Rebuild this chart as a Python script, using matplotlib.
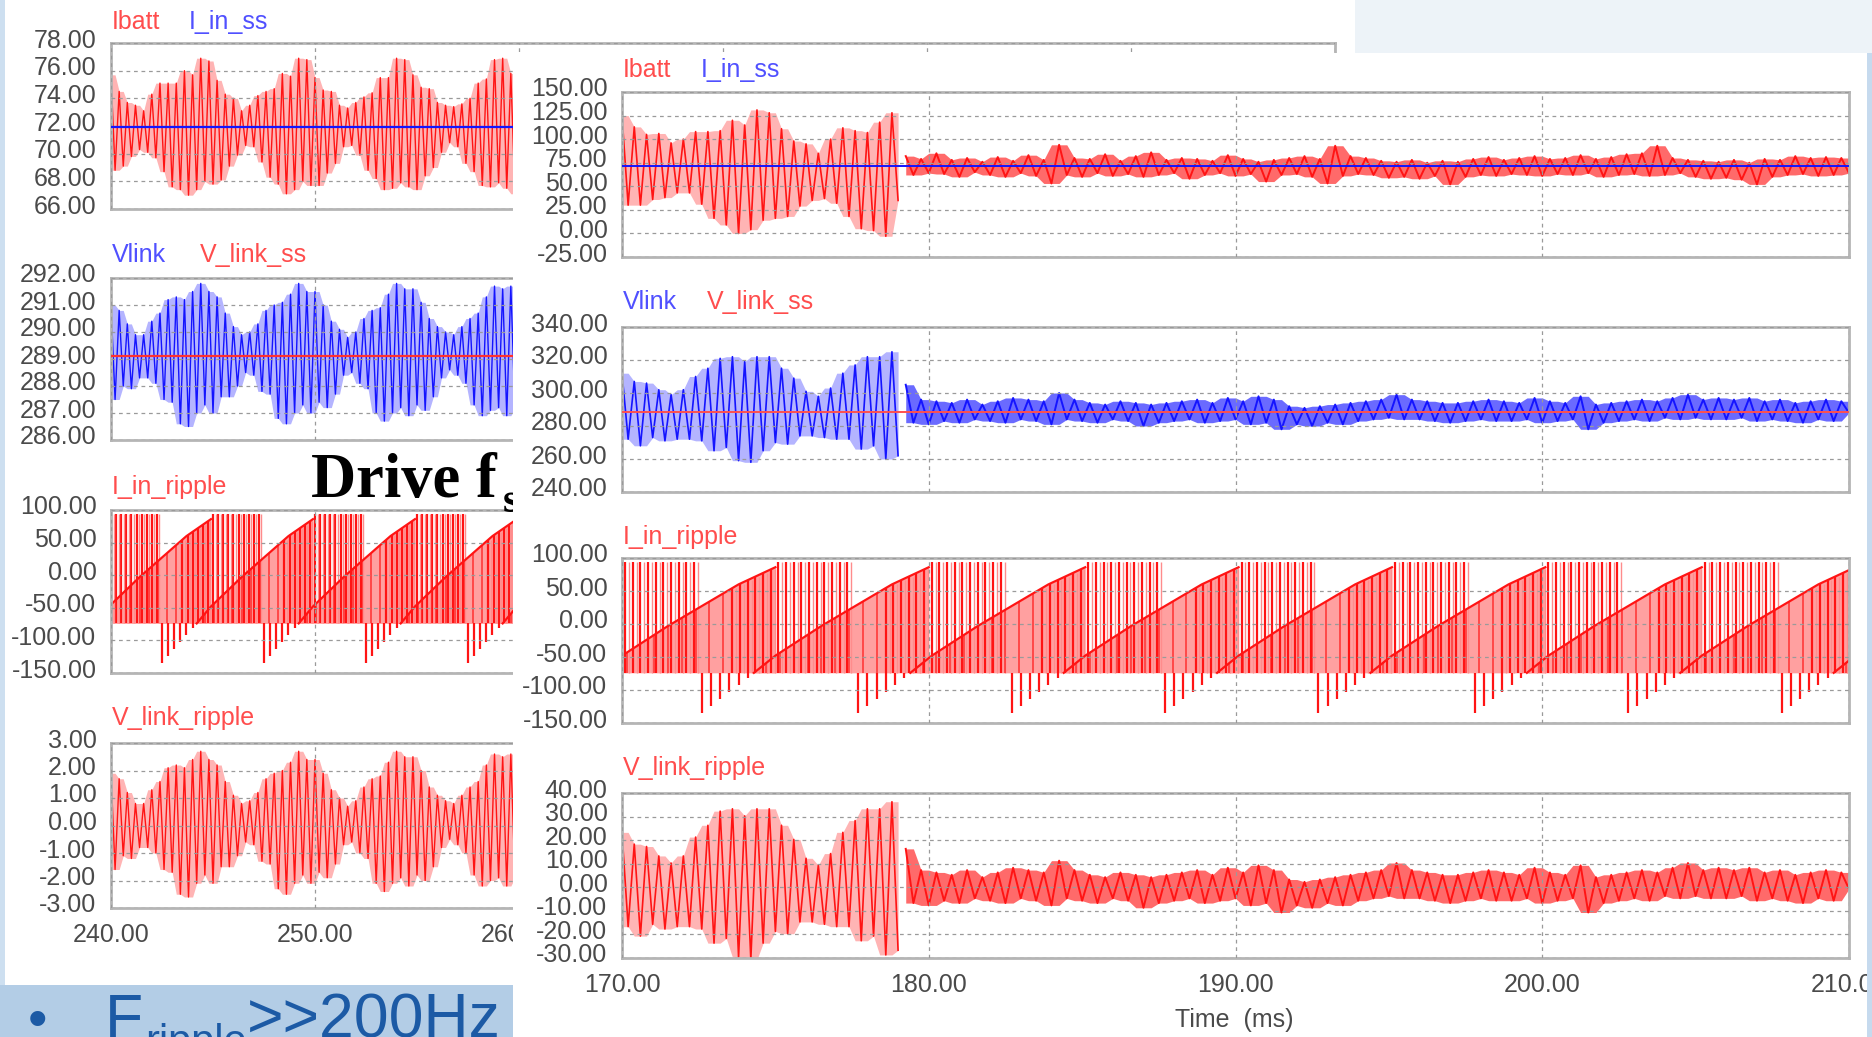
import numpy as np
import matplotlib.pyplot as plt
from matplotlib.patches import Rectangle
from matplotlib.ticker import FormatStrFormatter
from matplotlib.transforms import ScaledTranslation

# ---- values read off the two scope captures ----
# left capture: 240-260 ms visible, one vertex every 0.2 ms
left_t0, left_dt = 240.0, 0.2
ibatt_left = [
    75.7, 68.8, 74.5, 69.1, 73.7, 69.8, 73.5, 70.3, 73.1, 70.1,
    74.3, 69.7, 75.1, 68.7, 75.1, 67.6, 75.1, 67.4, 76.0, 67.0,
    75.7, 67.4, 76.9, 68.0, 76.7, 67.8, 75.3, 68.1, 74.3, 69.1,
    74.0, 69.9, 73.1, 70.6, 73.5, 70.5, 74.2, 69.4, 74.5, 68.3,
    74.7, 67.8, 75.8, 67.1, 75.6, 67.4, 76.9, 68.0, 76.8, 67.7,
    75.5, 67.7, 74.6, 68.6, 74.5, 69.3, 73.5, 70.5, 73.3, 70.6,
    73.7, 69.9, 74.1, 68.8, 74.4, 68.2, 75.5, 67.4, 75.5, 67.5,
    76.9, 67.9, 76.8, 67.6, 75.7, 67.4, 74.8, 68.4, 74.7, 69.0,
    73.7, 70.1, 73.5, 70.8, 73.4, 70.5, 73.6, 69.3, 74.0, 68.7,
    75.1, 67.7, 75.4, 67.6, 76.8, 67.9, 76.9, 67.5, 75.8, 67.1,
    75.1]
vlink_left = [
    291.0, 287.5, 290.8, 288.0, 290.3, 287.9, 289.9, 288.3, 289.9, 288.3,
    290.4, 288.1, 290.7, 287.5, 291.2, 287.4, 291.3, 286.6, 291.2, 286.5,
    291.5, 287.0, 291.8, 287.3, 291.5, 287.0, 291.3, 287.6, 290.7, 287.6,
    290.2, 288.0, 289.9, 288.5, 290.0, 288.4, 290.3, 287.8, 290.8, 287.7,
    291.0, 286.8, 291.1, 286.6, 291.4, 287.0, 291.8, 287.3, 291.5, 287.0,
    291.5, 287.4, 291.0, 287.2, 290.4, 287.7, 290.1, 288.4, 289.8, 288.5,
    290.0, 288.1, 290.5, 287.9, 290.8, 287.0, 290.9, 286.7, 291.4, 287.0,
    291.8, 287.2, 291.6, 286.9, 291.6, 287.3, 291.1, 287.1, 290.5, 287.6,
    290.2, 288.3, 290.0, 288.6, 289.9, 288.4, 290.2, 288.1, 290.5, 287.3,
    290.7, 286.9, 291.3, 287.1, 291.7, 287.2, 291.6, 286.9, 291.7, 287.2,
    291.3]
i_in_ss_left = 71.9
v_link_ss_left = 289.1

# right capture: 170-179 ms oscillation (0.2 ms), then 179.25-210 ms noise (0.25 ms)
osc_t0, osc_dt = 170.0, 0.2
noise_t0, noise_dt = 179.25, 0.25
ibatt_osc = [
    125, 30, 113, 30, 105, 36, 106, 38, 96, 43,
    100, 43, 108, 31, 108, 16, 109, 9, 120, 0,
    115, 4, 131, 14, 128, 16, 111, 18, 98, 29,
    95, 35, 85, 37, 100, 32, 112, 18, 109, 5,
    107, 3, 118, -3, 128, 35]
ibatt_noise = [
    82, 62, 79, 64, 85, 63, 78, 60, 80, 65, 76, 62, 81, 60, 77,
    64, 83, 61, 78, 53, 94, 62, 80, 60, 79, 64, 84, 61, 77, 63, 82,
    60, 86, 62, 78, 64, 80, 58, 79, 62, 77, 64, 83, 61, 79, 63, 76,
    55, 78, 62, 80, 63, 82, 60, 79, 53, 93, 61, 82, 63, 80, 62, 77,
    59, 76, 60, 78, 58, 75, 61, 77, 52, 76, 60, 79, 62, 81, 61, 78,
    63, 80, 62, 82, 61, 79, 63, 80, 62, 83, 64, 79, 60, 81, 62, 84,
    63, 85, 61, 93, 62, 80, 64, 78, 60, 77, 58, 76, 59, 78, 57, 75,
    52, 79, 60, 78, 62, 82, 63, 80, 61, 81, 62, 80, 64]
vlink_osc = [
    312, 272, 307, 268, 306, 273, 302, 271, 299, 272,
    302, 272, 310, 271, 315, 265, 321, 267, 322, 259,
    319, 258, 322, 265, 322, 270, 315, 269, 309, 274,
    301, 274, 298, 273, 303, 272, 312, 272, 317, 266,
    322, 268, 322, 260, 325, 262]
vlink_noise = [
    305, 282, 296, 281, 295, 283, 294, 282, 296, 284, 293, 283, 295, 282, 297,
    284, 296, 283, 295, 281, 300, 284, 296, 283, 294, 282, 293, 284, 295, 283, 294,
    280, 293, 282, 294, 283, 295, 284, 296, 282, 294, 283, 297, 284, 295, 281, 298,
    282, 296, 278, 292, 281, 291, 280, 292, 282, 293, 281, 294, 283, 295, 284, 296,
    285, 299, 284, 296, 284, 295, 283, 294, 282, 294, 283, 295, 284, 296, 283, 295,
    283, 294, 284, 297, 282, 295, 283, 294, 284, 298, 278, 293, 282, 294, 283, 295,
    284, 296, 283, 295, 285, 297, 284, 299, 285, 296, 284, 297, 284, 296, 285, 297,
    283, 295, 284, 296, 283, 294, 282, 295, 284, 296, 283, 295, 288]
i_in_ss_right = 71.0
v_link_ss_right = 288.7

# I_in_ripple: repeating ramps (start times, ramp shape), floor and ceiling
ramp_starts_left = [232.5, 237.5, 242.5, 247.5, 252.5, 257.5]
ramp_starts_right = [162.6, 167.6, 172.6, 177.7, 182.7, 187.7, 192.7, 197.8, 202.8, 207.8]
ramp_offset = [0.0, 1.7, 2.4, 3.9, 6.2, 7.4]
ramp_value = [-135, -74, -48, -3, 60, 86]
plateau_end = 10.0
ripple_floor = -74
ripple_ceiling = 94

W, H = 1872, 1037
RED = '#ff1414'
BLUE = '#1414ff'
PALE = '#ffa0a0'
LBL_RED = '#ff4d4d'
LBL_BLUE = '#5050ff'
FONT = 'Liberation Sans'

fig = plt.figure(figsize=(W / 100, H / 100), dpi=100, facecolor='#cddff0')


def box(x0, y0, x1, y1):
    return [x0 / W, 1 - y1 / H, (x1 - x0) / W, (y1 - y0) / H]


def add_rect(x0, y0, x1, y1, color, z):
    b = box(x0, y0, x1, y1)
    fig.add_artist(Rectangle((b[0], b[1]), b[2], b[3], transform=fig.transFigure,
                             facecolor=color, edgecolor='none', zorder=z))


def label(x, y, s, color, z, size=18):
    fig.text(x / W, 1 - y / H, s, color=color, fontsize=size, family=FONT,
             ha='left', va='center', zorder=z)


def style(ax, xticks, ylim, yticks, show_x):
    ax.set_xlim(xticks[0], xticks[-1])
    ax.set_xticks(xticks)
    ax.set_ylim(*ylim)
    ax.set_yticks(yticks)
    ax.xaxis.set_major_formatter(FormatStrFormatter('%.2f'))
    ax.yaxis.set_major_formatter(FormatStrFormatter('%.2f'))
    ax.tick_params(length=0, labelsize=18, labelcolor='#4a4a4a')
    ax.tick_params(axis='y', pad=10.5)
    ax.tick_params(axis='x', pad=11, labelbottom=show_x)
    for lab in ax.get_xticklabels() + ax.get_yticklabels():
        lab.set_family(FONT)
    off = ScaledTranslation(0, 0.05, fig.dpi_scale_trans)
    for lab in ax.get_yticklabels():
        lab.set_transform(lab.get_transform() + off)
    ax.grid(True, color='#9a9a9a', lw=0.9, ls=(0, (3, 3)))
    ax.set_axisbelow(False)
    for sp in ax.spines.values():
        sp.set_color('#b5b5b5')
        sp.set_linewidth(2.0)


def trace(ax, t, v, line, fill, lw):
    # pale band between neighbouring extremes, dense trace on top
    v = np.asarray(v, dtype=float)
    win = np.lib.stride_tricks.sliding_window_view(np.pad(v, 1, mode='edge'), 3)
    ax.fill_between(t, win.min(axis=1), win.max(axis=1), color=fill, lw=0, zorder=1.8)
    ax.plot(t, v, color=line, lw=lw, zorder=2)


def draw_ripple(ax, starts):
    off = np.array(ramp_offset)
    val = np.array(ramp_value, dtype=float)
    for s in starts:
        rt = s + off
        ax.fill_between(rt[1:], ripple_floor, val[1:], color=PALE, lw=0, zorder=1.8)
        # spikes below the floor while the ramp starts low
        ts = np.arange(s, s + off[1], 0.3)
        ax.vlines(ts, np.interp(ts, rt, val), ripple_floor, color=RED, lw=1.6)
        # scattered spikes under the rising ramp
        ts = np.arange(s + 2.1, s + 6.0, 0.45)
        ax.vlines(ts, ripple_floor, np.interp(ts, rt, val), color=RED, lw=1.1, alpha=0.8)
        # dense spikes while the ramp tops out and sits on the ceiling
        ts = np.arange(s + 6.0, s + plateau_end, 0.25)
        tops = np.where(ts - s > off[-1], ripple_ceiling, np.interp(ts, rt, val))
        ax.vlines(ts, ripple_floor, tops, color=RED, lw=1.6)
        ax.vlines(ts + 0.125, ripple_floor, tops, color='#ff8c8c', lw=1.0)
        ax.plot(rt[1:], val[1:], color=RED, lw=1.6)


# ---- backgrounds of the two pasted captures ----
add_rect(1355, 0, 1872, 53, '#edf3f8', -3)
add_rect(5, 0, 1355, 985, 'white', -2)
add_rect(513, 53, 1867, 1037, 'white', 1)
add_rect(0, 985, 513, 1037, '#b3cde6', 3)
add_rect(1867, 53, 1872, 1037, '#c6daee', 3)

# ---- left capture ----
lx0, lx1 = 111, 1335
left_rows = [(43, 209), (278, 440), (510, 673), (743, 908)]
lticks = np.arange(240, 301, 10)
ax_l = [fig.add_axes(box(lx0, a, lx1, b), zorder=0) for a, b in left_rows]

t_left = left_t0 + left_dt * np.arange(len(ibatt_left))
vl_left = np.array(vlink_left)

trace(ax_l[0], t_left, ibatt_left, RED, '#ffb4b4', 1.0)
ax_l[0].axhline(i_in_ss_left, color=BLUE, lw=1.6, zorder=3)
style(ax_l[0], lticks, (66, 78), np.arange(66, 79, 2), False)

trace(ax_l[1], t_left, vl_left, BLUE, '#b4b4ff', 1.0)
ax_l[1].axhline(v_link_ss_left, color='#ff3030', lw=1.6, zorder=3)
style(ax_l[1], lticks, (286, 292), np.arange(286, 293, 1), False)

draw_ripple(ax_l[2], ramp_starts_left)
style(ax_l[2], lticks, (-150, 100), np.arange(-150, 101, 50), False)

trace(ax_l[3], t_left, vl_left - v_link_ss_left, RED, '#ffb4b4', 1.0)
style(ax_l[3], lticks, (-3, 3), np.arange(-3, 4, 1), True)

label(112, 22, 'Ibatt', LBL_RED, 0.5)
label(189, 22, 'I_in_ss', LBL_BLUE, 0.5)
label(112, 255, 'Vlink', LBL_BLUE, 0.5)
label(200, 255, 'V_link_ss', LBL_RED, 0.5)
label(112, 487, 'I_in_ripple', LBL_RED, 0.5)
label(112, 718, 'V_link_ripple', LBL_RED, 0.5)

fig.text(311 / W, 1 - 497 / H, 'Drive f', fontsize=45, family='Liberation Serif',
         weight='bold', color='black', va='baseline', zorder=0.6)
fig.text(503 / W, 1 - 512 / H, 's', fontsize=30, family='Liberation Serif',
         weight='bold', color='black', va='baseline', zorder=0.6)

# ---- right capture ----
rx0, rx1 = 622, 1849
right_rows = [(92, 257), (327, 492), (558, 723), (793, 958)]
rticks = np.arange(170, 211, 10)
ax_r = [fig.add_axes(box(rx0, a, rx1, b), zorder=2) for a, b in right_rows]

t_osc = osc_t0 + osc_dt * np.arange(len(ibatt_osc))
t_noise = noise_t0 + noise_dt * np.arange(len(ibatt_noise))
vl_osc = np.array(vlink_osc, dtype=float)
vl_noise = np.array(vlink_noise, dtype=float)

trace(ax_r[0], t_osc, ibatt_osc, RED, '#ffb4b4', 1.2)
trace(ax_r[0], t_noise, ibatt_noise, RED, '#ff6a6a', 1.4)
ax_r[0].axhline(i_in_ss_right, color=BLUE, lw=1.4, zorder=3)
style(ax_r[0], rticks, (-25, 150), np.arange(-25, 151, 25), False)

trace(ax_r[1], t_osc, vl_osc, BLUE, '#b4b4ff', 1.2)
trace(ax_r[1], t_noise, vl_noise, BLUE, '#6a6aff', 1.4)
ax_r[1].axhline(v_link_ss_right, color='#ff5050', lw=1.4, zorder=3)
style(ax_r[1], rticks, (240, 340), np.arange(240, 341, 20), False)

draw_ripple(ax_r[2], ramp_starts_right)
style(ax_r[2], rticks, (-150, 100), np.arange(-150, 101, 50), False)

trace(ax_r[3], t_osc, vl_osc - v_link_ss_right, RED, '#ffb4b4', 1.2)
trace(ax_r[3], t_noise, vl_noise - v_link_ss_right, RED, '#ff6a6a', 1.4)
style(ax_r[3], rticks, (-30, 40), np.arange(-30, 41, 10), True)

label(623, 70, 'Ibatt', LBL_RED, 2.5)
label(701, 70, 'I_in_ss', LBL_BLUE, 2.5)
label(623, 302, 'Vlink', LBL_BLUE, 2.5)
label(707, 302, 'V_link_ss', LBL_RED, 2.5)
label(623, 537, 'I_in_ripple', LBL_RED, 2.5)
label(623, 768, 'V_link_ripple', LBL_RED, 2.5)
fig.text(1234 / W, 1 - 1020 / H, 'Time  (ms)', fontsize=18, family=FONT,
         color='#4a4a4a', ha='center', va='center', zorder=2.5)

# ---- slide bullet in the bottom-left corner ----
BUL = '#1c5aa5'
fig.text(28 / W, 1 - 1037 / H, '\u2022', fontsize=40, family=FONT, color=BUL,
         va='baseline', zorder=4)
fig.text(105 / W, 1 - 1038 / H, 'F', fontsize=45, family=FONT, color=BUL,
         va='baseline', zorder=4)
fig.text(145 / W, 1 - 1054 / H, 'ripple', fontsize=30, family=FONT, color=BUL,
         va='baseline', zorder=4)
fig.text(247 / W, 1 - 1038 / H, '>>200Hz', fontsize=45, family=FONT, color=BUL,
         va='baseline', zorder=4)

fig.savefig('out.png', dpi=100, facecolor=fig.get_facecolor())
